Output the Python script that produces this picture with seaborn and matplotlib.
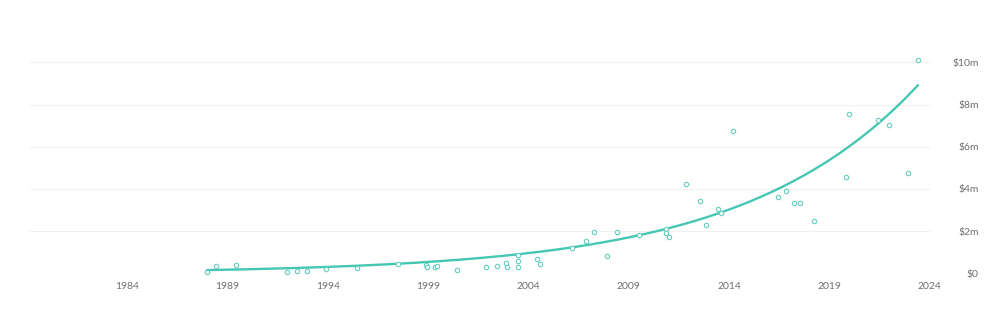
import numpy as np
import pandas as pd
import matplotlib
matplotlib.use("Agg")
import matplotlib.pyplot as plt
import seaborn as sns

# Data (year, value in $ millions)
years = [1987.97, 1988.44, 1989.43, 1991.96, 1992.46, 1992.96, 1993.89, 1995.45,
         1997.52, 1998.90, 1998.97, 1999.35, 1999.47, 2000.43, 2001.88, 2002.44,
         2002.88, 2002.94, 2003.46, 2003.46, 2003.46, 2004.45, 2004.59, 2006.20,
         2006.88, 2007.25, 2007.94, 2008.41, 2009.51, 2010.87, 2010.87, 2011.02,
         2011.87, 2012.57, 2012.88, 2013.45, 2013.60, 2014.21, 2016.47, 2016.85,
         2017.27, 2017.57, 2018.25, 2019.85, 2020.01, 2021.42, 2021.97, 2022.93,
         2023.43]
values = [0.05, 0.35, 0.38, 0.08, 0.09, 0.09, 0.19, 0.27,
          0.43, 0.41, 0.30, 0.30, 0.36, 0.14, 0.31, 0.36,
          0.47, 0.31, 0.85, 0.57, 0.31, 0.66, 0.45, 1.18,
          1.53, 1.94, 0.81, 1.96, 1.80, 2.11, 1.92, 1.72,
          4.22, 3.44, 2.30, 3.03, 2.84, 6.74, 3.62, 3.91,
          3.35, 3.33, 2.48, 4.58, 7.54, 7.27, 7.03, 4.77,
          10.11]

x_ticks = [1984, 1989, 1994, 1999, 2004, 2009, 2014, 2019, 2024]
y_ticks = [0, 2, 4, 6, 8, 10]
y_labels = ["$0", "$2m", "$4m", "$6m", "$8m", "$10m"]

df = pd.DataFrame({"year": years, "value": values})

# Exponential trend fitted to the data
t = np.array(years)
v = np.array(values)
coef = np.polyfit(t - t.min(), np.log(v), 1, w=np.sqrt(v))
trend_x = np.linspace(t.min(), t.max(), 200)
trend_df = pd.DataFrame({"year": trend_x,
                         "value": np.exp(coef[1] + coef[0] * (trend_x - t.min()))})

sns.set_theme(style="white")
plt.rcParams["font.family"] = ["Lato", "DejaVu Sans"]

line_col = "#45c7b3"
dot_col = "#62cfbf"
fig = plt.figure(figsize=(10, 3.17), dpi=100)
ax = fig.add_axes([0.03, 1 - 273.3 / 317, 0.90, 232.1 / 317])

sns.lineplot(data=trend_df, x="year", y="value", ax=ax, color=line_col, linewidth=1.7)
sns.scatterplot(data=df, x="year", y="value", ax=ax, marker="o", s=10,
                facecolor="white", edgecolor=dot_col, linewidth=0.8, zorder=3,
                clip_on=False)

ax.set_xlim(1979.15, 2024.03)
ax.set_ylim(0, 11)
ax.set_xticks(x_ticks)
ax.set_xticklabels([str(x) for x in x_ticks])
ax.set_yticks(y_ticks)
ax.set_yticklabels(y_labels)
ax.yaxis.tick_right()
for lbl in ax.get_yticklabels():
    lbl.set_horizontalalignment("right")
ax.tick_params(axis="y", length=0, pad=35, labelsize=7.5, labelcolor="#6f6f6f")
ax.tick_params(axis="x", length=0, pad=6, labelsize=7.5, labelcolor="#6f6f6f")
ax.grid(axis="y", color="#f0f0f0", linewidth=0.8)
ax.grid(axis="x", visible=False)
for s in ax.spines.values():
    s.set_visible(False)
ax.set_xlabel("")
ax.set_ylabel("")

fig.savefig("out.png", dpi=100)
